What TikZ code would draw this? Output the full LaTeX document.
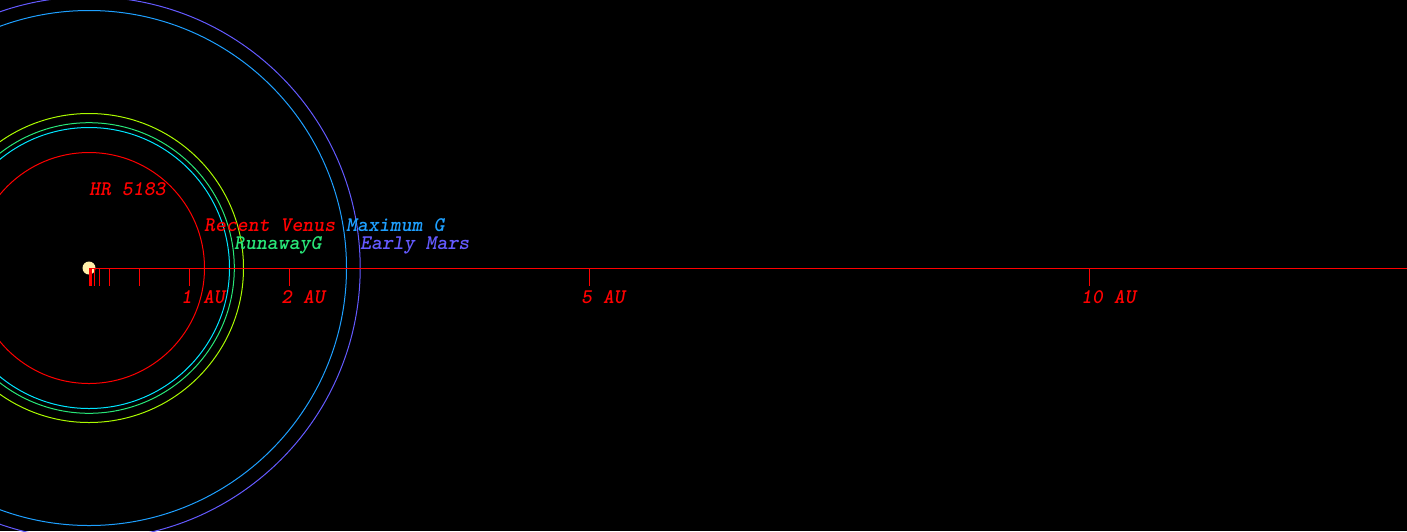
\documentclass[tikz,border=0pt]{standalone}
\usepackage{fontspec}
\newfontfamily\labfont{lmmonolt10-boldoblique}[Extension=.otf]
\definecolor{orbred}{RGB}{255,0,0}
\definecolor{orbcyan}{RGB}{0,230,255}
\definecolor{orbgreen}{RGB}{40,230,120}
\definecolor{orbyg}{RGB}{170,250,0}
\definecolor{orbblue}{RGB}{30,160,255}
\definecolor{orbpurple}{RGB}{100,90,255}
\definecolor{starcol}{RGB}{255,240,170}
\tikzset{
  orbit/.style={line width=1pt},
  lab/.style={anchor=base west, inner sep=0pt, text depth=0pt, font=\labfont\fontsize{20.8}{22}\selectfont},
  tickline/.style={draw=orbred, line width=1pt},
}
\begin{document}
\begin{tikzpicture}[x=1pt,y=-1pt]
\fill[black] (0,0) rectangle (1407,531);
\useasboundingbox (0,0) rectangle (1407,531);
\begin{scope}
\clip (0,0) rectangle (1407,531);
\coordinate (star) at (89,268);
\draw[orbit, orbred] (star) circle (115.5);
\draw[orbit, orbcyan] (star) circle (140.5);
\draw[orbit, orbgreen] (star) circle (145.3);
\draw[orbit, orbyg] (star) circle (154.5);
\draw[orbit, orbblue] (star) circle (257.5);
\draw[orbit, orbpurple] (star) circle (271.2);
\end{scope}
\fill[starcol] (star) circle (6.5);
\coordinate (axstart) at (90,268);
\coordinate (axend) at (1407,268);
\draw[tickline] (axstart) -- (axend);
\fill[orbred] (89,268) rectangle (92,286);
\foreach \x in {94,99,109,139,189,289,589,1089}
  \draw[tickline] (\x,268) -- (\x,286);
\node[lab, text=orbred] (hr) at (89,195) {HR 5183};
\node[lab, text=orbred] (venus) at (204,231) {Recent Venus};
\node[lab, text=orbblue] (maxg) at (346,231) {Maximum G};
\node[lab, text=orbgreen] (runaway) at (234,249) {RunawayG};
\node[lab, text=orbpurple] (mars) at (360,249) {Early Mars};
\node[lab, text=orbred] (au1) at (181,303) {1 AU};
\node[lab, text=orbred] (au2) at (281,303) {2 AU};
\node[lab, text=orbred] (au5) at (581,303) {5 AU};
\node[lab, text=orbred] (au10) at (1081,303) {10 AU};
\end{tikzpicture}
\end{document}
